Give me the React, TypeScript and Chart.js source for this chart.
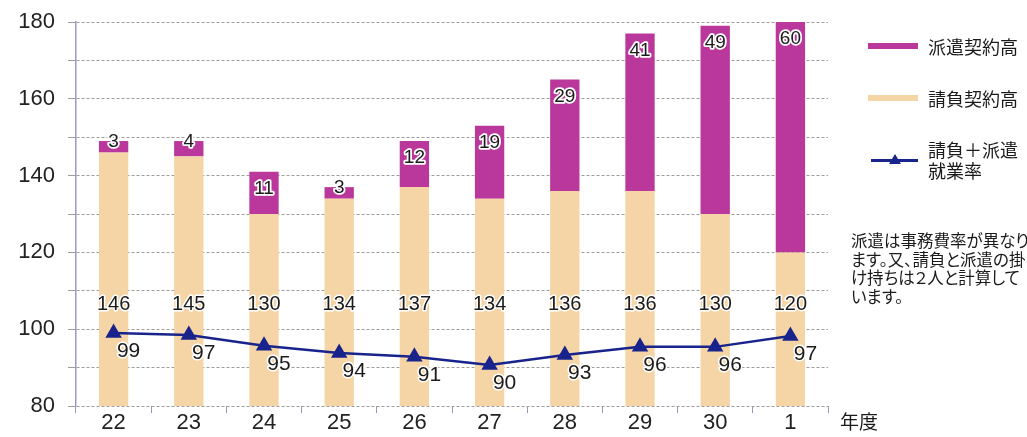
import React, { useEffect, useRef } from 'react';
import { Chart, registerables } from 'chart.js';

Chart.register(...registerables);

const categories = ['22', '23', '24', '25', '26', '27', '28', '29', '30', '1'];
const ukeoi = [146, 145, 130, 134, 137, 134, 136, 136, 130, 120];
const haken = [3, 4, 11, 3, 12, 19, 29, 41, 49, 60];
// printed rate labels
const rateLabels = [99, 97, 95, 94, 91, 90, 93, 96, 96, 97];
const ratePlotted = [99, 98.5, 95.7, 93.8, 92.8, 90.7, 93.3, 95.4, 95.4, 98.2];
const yMajorTicks = [80, 100, 120, 140, 160, 180];

const NUM_FONT = '"Liberation Sans", Arial, Helvetica, sans-serif';
const JP_FONT = '"Noto Sans CJK JP", "Noto Sans", sans-serif';
const MAGENTA = '#ba389b';
const ORANGE = '#f5d5a5';
const NAVY = '#18238c';
const ORANGE_LABEL_AT = 106.5;

const labelPlugin = {
  id: 'valueLabels',
  afterDatasetsDraw(chart: any) {
    const ctx = chart.ctx;
    const yScale = chart.scales.y;
    ctx.save();
    ctx.textAlign = 'center';
    ctx.textBaseline = 'middle';
    ctx.lineJoin = 'round';
    const draw = (t: string, x: number, y: number, font: string, sw: number) => {
      ctx.font = font;
      ctx.lineWidth = sw;
      ctx.strokeStyle = '#ffffff';
      ctx.strokeText(t, x, y);
      ctx.fillStyle = '#1b1b1b';
      ctx.fillText(t, x, y);
    };
    const mLine = chart.getDatasetMeta(0);
    const mOrange = chart.getDatasetMeta(1);
    const mMag = chart.getDatasetMeta(2);
    mOrange.data.forEach((el: any, i: number) => {
      draw(String(ukeoi[i]), el.x, yScale.getPixelForValue(ORANGE_LABEL_AT), `20px ${NUM_FONT}`, 3);
    });
    mMag.data.forEach((el: any, i: number) => {
      const h = el.base - el.y;
      const off = h < 20 ? 1 : 17;
      draw(String(haken[i]), el.x, el.y + off, `19px ${NUM_FONT}`, 3.5);
    });
    mLine.data.forEach((el: any, i: number) => {
      draw(String(rateLabels[i]), el.x + 15, el.y + 18, `21px ${NUM_FONT}`, 3);
    });
    ctx.restore();
  },
};

export default function App() {
  const ref = useRef<HTMLCanvasElement | null>(null);
  useEffect(() => {
    if (!ref.current) return;
    const chart = new Chart(ref.current, {
      type: 'bar',
      data: {
        labels: categories,
        datasets: [
          {
            type: 'line',
            label: '請負＋派遣就業率',
            data: ratePlotted,
            borderColor: NAVY,
            backgroundColor: NAVY,
            borderWidth: 2.5,
            pointStyle: 'triangle',
            pointRadius: 7,
            pointBackgroundColor: NAVY,
            pointBorderColor: NAVY,
            tension: 0,
            stack: 'line',
          } as any,
          {
            type: 'bar',
            label: '請負契約高',
            data: ukeoi,
            backgroundColor: ORANGE,
            stack: 'bars',
            barPercentage: 0.39,
            categoryPercentage: 1,
          },
          {
            type: 'bar',
            label: '派遣契約高',
            data: haken,
            backgroundColor: MAGENTA,
            stack: 'bars',
            barPercentage: 0.39,
            categoryPercentage: 1,
          },
        ],
      },
      options: {
        responsive: false,
        animation: false,
        layout: { padding: { left: 0, right: 199, top: 22, bottom: 0 } },
        plugins: { legend: { display: false }, tooltip: { enabled: false } },
        scales: {
          x: {
            stacked: true,
            grid: { drawOnChartArea: false, drawTicks: true, tickLength: 7, offset: true, color: '#9a9ab8' },
            border: { display: false },
            ticks: { color: '#222', font: { size: 22, family: NUM_FONT }, padding: -3 },
            afterFit: (s: any) => { s.height = 31; },
          },
          y: {
            stacked: true,
            min: 80,
            max: 180,
            grid: { color: '#9c9c9c', lineWidth: 1, tickLength: 8 },
            border: { display: true, color: '#9a9ac8', width: 1.5, dash: [3, 2] },
            ticks: {
              stepSize: 10,
              padding: 13,
              color: '#222',
              font: { size: 22, family: NUM_FONT },
              callback: (v: any) => (yMajorTicks.includes(Number(v)) ? String(v) : ''),
            },
            afterFit: (s: any) => { s.width = 76; s.paddingTop = 0; s.paddingBottom = 0; },
          },
        },
      },
      plugins: [labelPlugin],
    });
    return () => chart.destroy();
  }, []);

  const txt: React.CSSProperties = {
    position: 'absolute',
    fontFamily: JP_FONT,
    color: '#1a1a1a',
    whiteSpace: 'nowrap',
  };

  return (
    <div style={{ position: 'absolute', left: 0, top: 0, width: 1027, height: 437, overflow: 'hidden', background: '#fff' }}>
      <canvas ref={ref} width={1027} height={437} style={{ position: 'absolute', left: 0, top: 0 }} />
      <div style={{ position: 'absolute', left: 868, top: 43, width: 50, height: 6, background: MAGENTA }} />
      <div style={{ ...txt, left: 928, top: 34, fontSize: 18, lineHeight: '24px' }}>派遣契約高</div>
      <div style={{ position: 'absolute', left: 868, top: 95, width: 50, height: 6, background: ORANGE }} />
      <div style={{ ...txt, left: 928, top: 86, fontSize: 18, lineHeight: '24px' }}>請負契約高</div>
      <div style={{ position: 'absolute', left: 871, top: 159, width: 47, height: 2.5, background: NAVY }} />
      <div style={{ position: 'absolute', left: 889, top: 154, width: 0, height: 0, borderLeft: '6px solid transparent', borderRight: '6px solid transparent', borderBottom: `10px solid ${NAVY}` }} />
      <div style={{ ...txt, left: 928, top: 139, fontSize: 18, lineHeight: '21px' }}>請負＋派遣<br />就業率</div>
      <div style={{ ...txt, left: 851, top: 231, fontSize: 16.5, lineHeight: '18.5px', fontFeatureSettings: '"palt"' }}>
        派遣は事務費率が異なり<br />ます。又、請負と派遣の掛<br />け持ちは２人と計算して<br />います。
      </div>
      <div style={{ ...txt, left: 840, top: 408, fontSize: 19, lineHeight: '26px' }}>年度</div>
    </div>
  );
}
